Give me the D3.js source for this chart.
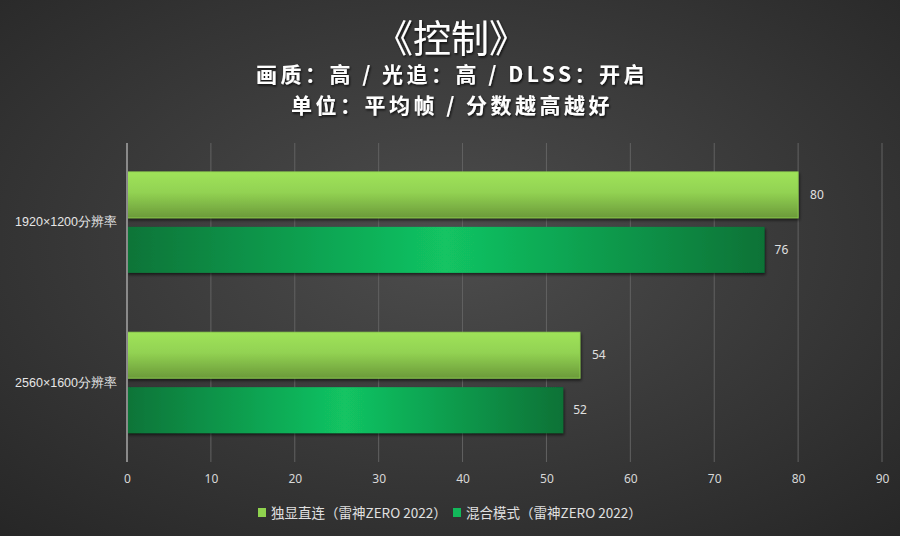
<!DOCTYPE html>
<html><head><meta charset="utf-8">
<script src="https://cdn.jsdelivr.net/npm/d3@7"></script>
<style>
html,body{margin:0;padding:0;background:#3a3a3a;}
svg{display:block;font-family:"Noto Sans CJK SC","Noto Sans",sans-serif;}
</style></head><body>
<svg id="c" width="900" height="536"></svg>
<script>
const categories = ["1920×1200分辨率", "2560×1600分辨率"];
const seriesNames = ["独显直连（雷神ZERO 2022）", "混合模式（雷神ZERO 2022）"];
const seriesA = [80, 54];
const seriesB = [76, 52];
const xTicks = [0, 10, 20, 30, 40, 50, 60, 70, 80, 90];
const titleText = "《控制》";
const subtitle1 = "画质：高 / 光追：高 / DLSS：开启";
const subtitle2 = "单位：平均帧 / 分数越高越好";

const W = 900, H = 536;
const m = {l:127, r:18, t:143, b:74};
const svg = d3.select("#c");
const defs = svg.append("defs");

const bg = defs.append("radialGradient").attr("id","bg").attr("cx","50%").attr("cy","45%").attr("r","75%");
bg.append("stop").attr("offset","0%").attr("stop-color","#4d4d4d");
bg.append("stop").attr("offset","100%").attr("stop-color","#262626");

const gA = defs.append("linearGradient").attr("id","gA").attr("x1",0).attr("y1",0).attr("x2",0).attr("y2",1);
gA.append("stop").attr("offset","0%").attr("stop-color","#9fe35a");
gA.append("stop").attr("offset","45%").attr("stop-color","#92d252");
gA.append("stop").attr("offset","100%").attr("stop-color","#6b9a3a");

const gB = defs.append("linearGradient").attr("id","gB").attr("x1",0).attr("y1",0).attr("x2",1).attr("y2",0);
gB.append("stop").attr("offset","0%").attr("stop-color","#087438");
gB.append("stop").attr("offset","50%").attr("stop-color","#12c463");
gB.append("stop").attr("offset","100%").attr("stop-color","#077236");

const sh = defs.append("filter").attr("id","sh").attr("x","-5%").attr("y","-20%").attr("width","110%").attr("height","150%");
sh.append("feDropShadow").attr("dx",1).attr("dy",2).attr("stdDeviation",1.5).attr("flood-color","#000").attr("flood-opacity",0.6);

const ts = defs.append("filter").attr("id","ts").attr("x","-10%").attr("y","-20%").attr("width","120%").attr("height","150%");
ts.append("feDropShadow").attr("dx",1).attr("dy",1.5).attr("stdDeviation",0.8).attr("flood-color","#000").attr("flood-opacity",0.8);

svg.append("rect").attr("width",W).attr("height",H).attr("fill","url(#bg)");

const x = d3.scaleLinear().domain([0,90]).range([m.l, 882]);
const y0 = d3.scaleBand().domain(categories).range([m.t, H-m.b]).paddingInner(0.37).paddingOuter(0.18);
const y1 = d3.scaleBand().domain(["A","B"]).range([0, y0.bandwidth()]).paddingInner(0.164);

// gridlines
svg.append("g").selectAll("line").data(xTicks.slice(1)).join("line")
  .attr("x1",d=>x(d)).attr("x2",d=>x(d)).attr("y1",m.t).attr("y2",H-m.b)
  .attr("stroke","#626262").attr("stroke-width",1);

// x axis labels
const xa = svg.append("g").attr("transform",`translate(0,${H-m.b})`)
  .call(d3.axisBottom(x).tickValues(xTicks).tickSize(0).tickPadding(12).tickFormat(d3.format("d")));
xa.select(".domain").remove();
xa.selectAll("text").attr("fill","#d8d8d8").attr("font-size",12).attr("font-family","'Noto Sans','DejaVu Sans',sans-serif");

// y axis
const ya = svg.append("g").attr("transform",`translate(${m.l},0)`)
  .call(d3.axisLeft(y0).tickSize(0).tickPadding(10));
ya.select(".domain").remove();
ya.selectAll("text").attr("fill","#e6e6e6").attr("font-size",12.5).attr("dy","0.32em");

// bars
const groups = svg.append("g").selectAll("g").data(categories).join("g")
  .attr("transform",d=>`translate(0,${y0(d)})`);
groups.append("rect").attr("x",x(0)).attr("y",y1("A")).attr("height",y1.bandwidth())
  .attr("width",(d,i)=>x(seriesA[i])-x(0)).attr("fill","url(#gA)").attr("filter","url(#sh)")
  .attr("stroke","#8fd04e").attr("stroke-width",0.8);
groups.append("rect").attr("x",x(0)).attr("y",y1("B")).attr("height",y1.bandwidth())
  .attr("width",(d,i)=>x(seriesB[i])-x(0)).attr("fill","url(#gB)").attr("filter","url(#sh)");

groups.append("text").attr("x",(d,i)=>x(seriesA[i])+12).attr("y",y1("A")+y1.bandwidth()/2)
  .attr("dy","0.35em").attr("fill","#e0e0e0").attr("font-size",12).text((d,i)=>seriesA[i])
  .attr("font-family","'Noto Sans','DejaVu Sans',sans-serif");
groups.append("text").attr("x",(d,i)=>x(seriesB[i])+10).attr("y",y1("B")+y1.bandwidth()/2)
  .attr("dy","0.35em").attr("fill","#e0e0e0").attr("font-size",12).text((d,i)=>seriesB[i])
  .attr("font-family","'Noto Sans','DejaVu Sans',sans-serif");

// axis line
svg.append("line").attr("x1",x(0)).attr("x2",x(0)).attr("y1",m.t).attr("y2",H-m.b)
  .attr("stroke","#8a8a8a").attr("stroke-width",2);

// titles
svg.append("text").attr("x",451).attr("y",52).attr("text-anchor","middle").attr("fill","#fff")
  .attr("font-size",38).attr("filter","url(#ts)").text(titleText);
svg.append("text").attr("x",452).attr("y",82).attr("text-anchor","middle").attr("fill","#fff")
  .attr("font-size",21).attr("font-weight","bold").attr("letter-spacing",3.5).attr("filter","url(#ts)").text(subtitle1);
svg.append("text").attr("x",452).attr("y",113).attr("text-anchor","middle").attr("fill","#fff")
  .attr("font-size",21).attr("font-weight","bold").attr("letter-spacing",3.5).attr("filter","url(#ts)").text(subtitle2);

// legend
const legColors = ["#8fd24e","#12b85a"];
const legX = [258, 453];
const leg = svg.append("g").selectAll("g").data(seriesNames).join("g")
  .attr("transform",(d,i)=>`translate(${legX[i]},513)`);
leg.append("rect").attr("x",0).attr("y",-5).attr("width",8).attr("height",9).attr("fill",(d,i)=>legColors[i]);
leg.append("text").attr("x",13).attr("y",0).attr("dy","0.35em").attr("fill","#e0e0e0").attr("font-size",13.5).text(d=>d);
</script>
</body></html>
